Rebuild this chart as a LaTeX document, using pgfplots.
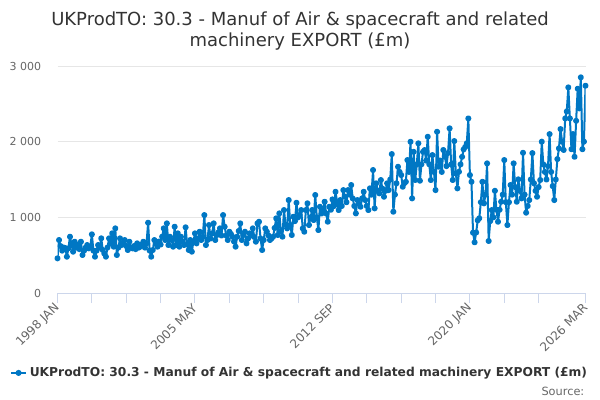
\documentclass[border=0pt]{standalone}
\usepackage{fontspec}
\setmainfont{DejaVu Sans}
\usepackage{pgfplots}
\pgfplotsset{compat=1.18}
\definecolor{series}{HTML}{0077C4}
\definecolor{axisc}{HTML}{CCD6EB}
\definecolor{gridc}{HTML}{E6E6E6}
\definecolor{labelc}{HTML}{666666}
\definecolor{titlec}{HTML}{333333}
\begin{document}
\begin{tikzpicture}
\path[use as bounding box] (0pt,0pt) rectangle (450pt,300pt);
\node[anchor=base, font=\fontsize{13.5}{16}\selectfont, text=titlec] at (225pt,280.5pt) {UKProdTO: 30.3 - Manuf of Air \& spacecraft and related};
\node[anchor=base, font=\fontsize{13.5}{16}\selectfont, text=titlec] at (225pt,264.75pt) {machinery EXPORT (£m)};
\node[anchor=base east, font=\fontsize{8.5}{10}\selectfont, text=labelc] at (441.75pt,3.75pt) {Source:};
\begin{axis}[
  at={(43.125pt,80.25pt)}, anchor=south west,
  width=396pt, height=170.25pt, scale only axis,
  xmin=0, xmax=338, ymin=0, ymax=3000,
  axis x line*=bottom, axis y line*=left,
  x axis line style={draw=axisc, line width=0.75pt},
  y axis line style={draw=none},
  tick align=outside,
  major tick length=7.5pt,
  minor tick length=7.5pt,
  xtick={0,88,176,264,338},
  xticklabels={1998 JAN,2005 MAY,2012 SEP,2020 JAN,2026 MAR},
  minor xtick={22,44,66,110,132,154,198,220,242,286,308},
  xtick style={draw=axisc, line width=0.75pt},
  ytick={0,1000,2000,3000},
  yticklabels={0,1 000,2 000,3 000},
  ytick style={draw=none},
  ymajorgrids,
  y grid style={draw=gridc, line width=0.75pt},
  xticklabel style={font=\fontsize{9}{11}\selectfont, text=labelc, yshift=-2pt, rotate=45, anchor=east, inner sep=0pt},
  yticklabel style={font=\fontsize{8.25}{10}\selectfont, text=labelc, anchor=east, inner sep=0pt, xshift=-4.5pt},
  legend style={at={(axis description cs:1.0085,-0.352)}, anchor=east, draw=none, fill=none,
     font=\fontsize{9.2}{11}\selectfont\bfseries, text=titlec, inner sep=0pt},
  legend image code/.code={\draw[mark repeat=2,mark phase=2,#1] plot coordinates {(0pt,0pt) (5.6pt,0pt) (11.25pt,0pt)};},
]
\addplot[color=series, line width=1.5pt, line join=round, mark=*, mark size=1.5pt, mark options={solid}] table[x=x,y=y] {
x y
0 458
1 700
2 620
3 560
4 600
5 594
6 480
7 590
8 744
9 640
10 546
11 678
12 600
13 634
14 580
15 678
16 502
17 560
18 600
19 634
20 590
21 612
22 775
23 560
24 480
25 560
26 634
27 600
28 722
29 568
30 520
31 480
32 600
33 722
34 650
35 788
36 612
37 854
38 502
39 600
40 722
41 634
42 660
43 700
44 620
45 568
46 678
47 600
48 590
49 620
50 580
51 656
52 600
53 612
54 640
55 678
56 600
57 656
58 929
59 560
60 480
61 568
62 700
63 650
64 612
65 680
66 640
67 744
68 854
69 700
70 920
71 634
72 744
73 700
74 612
75 876
76 634
77 788
78 612
79 744
80 680
81 634
82 868
83 640
84 568
85 700
86 546
87 680
88 788
89 656
90 720
91 810
92 700
93 744
94 1030
95 634
96 700
97 898
98 720
99 788
100 920
101 700
102 766
103 800
104 854
105 760
106 1030
107 876
108 760
109 700
110 810
111 780
112 744
113 680
114 612
115 744
116 820
117 920
118 700
119 766
120 810
121 656
122 720
123 788
124 760
125 854
126 740
127 678
128 920
129 942
130 720
131 568
132 700
133 854
134 810
135 760
136 700
137 720
138 744
139 860
140 986
141 766
142 1052
143 820
144 744
145 1096
146 900
147 854
148 1228
149 900
150 766
151 1008
152 950
153 1193
154 1000
155 1030
156 1096
157 854
158 810
159 1096
160 1185
161 898
162 1000
163 1096
164 964
165 1295
166 1000
167 832
168 1140
169 1050
170 1096
171 1206
172 1050
173 942
174 1140
175 1100
176 1237
177 1150
178 1338
179 1200
180 1096
181 1228
182 1150
183 1360
184 1272
185 1200
186 1360
187 1300
188 1427
189 1250
190 1150
191 1052
192 1228
193 1180
194 1140
195 1250
196 1338
197 1228
198 1150
199 1096
200 1383
201 1300
202 1625
203 1119
204 1449
205 1350
206 1317
207 1493
208 1380
209 1272
210 1350
211 1449
212 1360
213 1500
214 1836
215 1074
216 1300
217 1449
218 1668
219 1600
220 1559
221 1404
222 1450
223 1470
224 1757
225 1600
226 1999
227 1251
228 1866
229 1493
230 1700
231 1978
232 1484
233 1700
234 1866
235 1889
236 1750
237 2065
238 1700
239 1493
240 1823
241 1600
242 1360
243 2131
244 1668
245 1750
246 1600
247 1890
248 1800
249 1677
250 1850
251 2176
252 1700
253 1493
254 2008
255 1581
256 1383
257 1602
258 1700
259 1800
260 1898
261 1930
262 1978
263 2307
264 1559
265 1470
266 797
267 670
268 800
269 960
270 987
271 1200
272 1470
273 1185
274 1300
275 1713
276 687
277 950
278 1096
279 1000
280 1351
281 1100
282 942
283 1100
284 1206
285 1300
286 1757
287 1200
288 898
289 1200
290 1427
291 1300
292 1713
293 1400
294 1206
295 1502
296 1350
297 1250
298 1853
299 1300
300 1061
301 1150
302 1228
303 1500
304 1849
305 1450
306 1350
307 1272
308 1400
309 1493
310 2000
311 1700
312 1600
313 1500
314 1677
315 2100
316 1600
317 1413
318 1228
319 1500
320 1770
321 1911
322 2166
323 2000
324 1890
325 2307
326 2400
327 2717
328 2307
329 1900
330 2100
331 1800
332 2276
333 2700
334 2440
335 2850
336 1900
337 2000
338 2740
};
\addlegendentry{UKProdTO: 30.3 - Manuf of Air \& spacecraft and related machinery EXPORT (£m)}
\end{axis}
\end{tikzpicture}
\end{document}
